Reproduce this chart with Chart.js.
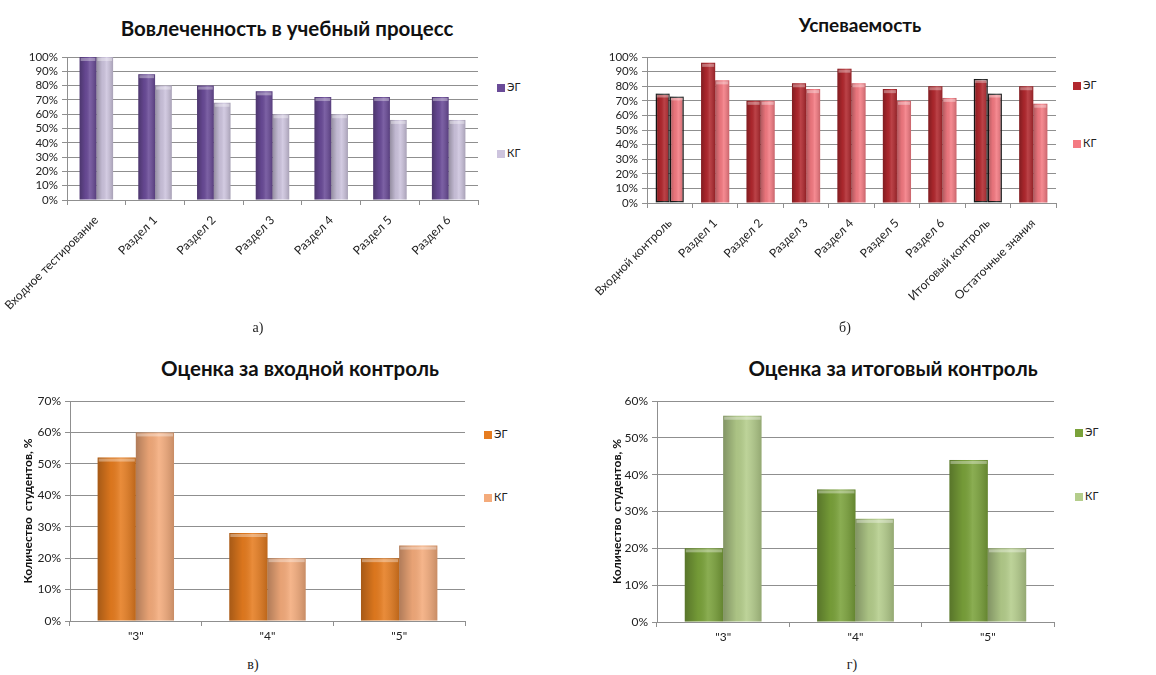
<!DOCTYPE html>
<html>
<head>
<meta charset="utf-8">
<script src="https://cdn.jsdelivr.net/npm/chart.js@4"></script>
<style>
  body { margin: 0; background: #fff; width: 1156px; height: 675px; position: relative; overflow: hidden; font-family: Lato, "Open Sans", sans-serif; }
  canvas { position: absolute; }
  .title { position: absolute; font-weight: bold; font-size: 20.5px; color: #111; white-space: nowrap; transform: translateX(-50%); }
  .caption { position: absolute; font-family: "Liberation Serif", serif; font-size: 14px; color: #222; transform: translateX(-50%); }
  .leg { position: absolute; font-size: 11px; color: #222; white-space: nowrap; }
  .leg span { display: inline-block; width: 8px; height: 8px; margin-right: 2px; vertical-align: -1px; }
</style>
</head>
<body>

<div class="title" style="left:287px; top:16px;">Вовлеченность в учебный процесс</div>
<div class="title" style="left:860px; top:13px; font-size:19px;">Успеваемость</div>
<div class="title" style="left:300px; top:356px;">Оценка за входной контроль</div>
<div class="title" style="left:893px; top:356px;">Оценка за итоговый контроль</div>

<canvas id="chartA" width="490" height="290" style="left:0px; top:40px;"></canvas>
<canvas id="chartB" width="490" height="290" style="left:580px; top:40px;"></canvas>
<canvas id="chartC" width="480" height="275" style="left:0px; top:380px;"></canvas>
<canvas id="chartD" width="490" height="275" style="left:580px; top:380px;"></canvas>

<div class="caption" style="left:258px; top:320px;">а)</div>
<div class="caption" style="left:845px; top:320px;">б)</div>
<div class="caption" style="left:253px; top:657px;">в)</div>
<div class="caption" style="left:852px; top:657px;">г)</div>

<script>
// --- data ---
var engageLabels = ["Входное тестирование", "Раздел 1", "Раздел 2", "Раздел 3", "Раздел 4", "Раздел 5", "Раздел 6"];
var engageEG = [100, 88, 80, 76, 72, 72, 72];
var engageKG = [100, 80, 68, 60, 60, 56, 56];

var progressLabels = ["Входной контроль", "Раздел 1", "Раздел 2", "Раздел 3", "Раздел 4", "Раздел 5", "Раздел 6", "Итоговый контроль", "Остаточные знания"];
var progressEG = [75, 96, 70, 82, 92, 78, 80, 85, 80];
var progressKG = [73, 84, 70, 78, 82, 70, 72, 75, 68];

var gradeLabels = ['"3"', '"4"', '"5"'];
var entryEG = [52, 28, 20];
var entryKG = [60, 20, 24];
var finalEG = [20, 36, 44];
var finalKG = [56, 28, 20];

var seriesNames = ["ЭГ", "КГ"];
var yAxisTitle = "Количество  студентов, %";

var gridColor = "#8f8f8f";

// shading over each bar so it looks a bit like the excel bevel
var bevelPlugin = {
    id: "bevel",
    afterDatasetsDraw: function(chart) {
        var ctx = chart.ctx;
        chart.data.datasets.forEach(function(ds, di) {
            var meta = chart.getDatasetMeta(di);
            meta.data.forEach(function(bar) {
                var left = bar.x - bar.width / 2;
                var top = bar.y;
                var h = bar.base - bar.y;
                var g = ctx.createLinearGradient(left, 0, left + bar.width, 0);
                g.addColorStop(0, "rgba(0,0,0,0.28)");
                g.addColorStop(0.35, "rgba(0,0,0,0.05)");
                g.addColorStop(0.6, "rgba(255,255,255,0.12)");
                g.addColorStop(1, "rgba(0,0,0,0.18)");
                ctx.save();
                ctx.fillStyle = g;
                ctx.fillRect(left, top, bar.width, h);
                ctx.fillStyle = "rgba(255,255,255,0.35)";
                ctx.fillRect(left + 1, top + 1, bar.width - 2, 3);
                ctx.restore();
            });
        });
    }
};

function addLegend(x, y, color, text) {
    var div = document.createElement("div");
    div.className = "leg";
    div.style.left = x + "px";
    div.style.top = y + "px";
    var sq = document.createElement("span");
    sq.style.background = color;
    div.append(sq);
    div.append(document.createTextNode(text));
    document.body.append(div);
}

function makeChart(id, labels, eg, kg, colors, opt) {
    var yScale = {
        min: 0,
        max: opt.max,
        ticks: {
            stepSize: 10,
            autoSkip: false,
            color: "#222",
            padding: 4,
            font: { family: "Lato", size: opt.tickSize },
            callback: function(v) { return v + "%"; }
        },
        grid: { color: gridColor, tickLength: 5, tickColor: gridColor },
        border: { color: gridColor },
        afterFit: function(scale) { scale.width = opt.yWidth; }
    };
    if (opt.yTitle) {
        yScale.title = {
            display: true,
            text: opt.yTitle,
            color: "#111",
            font: { family: "Lato", size: 12, weight: "bold" },
            padding: 0
        };
    }

    new Chart(document.getElementById(id), {
        type: "bar",
        data: {
            labels: labels,
            datasets: [{
                label: seriesNames[0],
                data: eg,
                backgroundColor: colors[0],
                borderColor: "#1a1a1a",
                borderWidth: opt.outline || 0,
                borderSkipped: false
            }, {
                label: seriesNames[1],
                data: kg,
                backgroundColor: colors[1],
                borderColor: "#1a1a1a",
                borderWidth: opt.outline || 0,
                borderSkipped: false
            }]
        },
        options: {
            responsive: false,
            animation: false,
            layout: { padding: { top: opt.padTop, right: opt.padRight, left: opt.padLeft || 0, bottom: 0 } },
            plugins: { legend: { display: false }, tooltip: { enabled: false } },
            datasets: { bar: { categoryPercentage: opt.catPct, barPercentage: 1 } },
            scales: {
                x: {
                    ticks: {
                        color: "#222",
                        padding: opt.xPad,
                        autoSkip: false,
                        minRotation: opt.rotate,
                        maxRotation: opt.rotate,
                        font: { family: "Lato", size: opt.xSize }
                    },
                    grid: { offset: true, drawOnChartArea: false, tickLength: 5, color: gridColor },
                    border: { color: gridColor },
                    afterFit: function(scale) {
                        scale.height = opt.xHeight;
                        // long rotated first label must not push the plot to the right
                        scale.paddingLeft = 0;
                        scale.paddingRight = 0;
                    }
                },
                y: yScale
            }
        },
        plugins: [bevelPlugin]
    });
}

// outline only on "Входной контроль" and "Итоговый контроль" bars
function progressOutline(ctx) {
    return (ctx.dataIndex === 0 || ctx.dataIndex === 7) ? 1.5 : 0;
}

makeChart("chartA", engageLabels, engageEG, engageKG, ["#6a4b98", "#cdc4de"], {
    max: 100, tickSize: 11.5, xSize: 12, xPad: 8, yWidth: 67, xHeight: 130, padTop: 17, padRight: 12, catPct: 0.57, rotate: 45
});
makeChart("chartB", progressLabels, progressEG, progressKG, ["#b2282e", "#f47a82"], {
    max: 100, tickSize: 11.5, xSize: 12, xPad: 8, yWidth: 67, xHeight: 127, padTop: 17, padRight: 14, catPct: 0.62, rotate: 45,
    outline: progressOutline
});
makeChart("chartC", gradeLabels, entryEG, entryKG, ["#e67c1f", "#f4ab7b"], {
    max: 70, tickSize: 12, xSize: 12, xPad: 3, yWidth: 49, padLeft: 21, xHeight: 34, padTop: 21, padRight: 15, catPct: 0.58, rotate: 0,
    yTitle: yAxisTitle
});
makeChart("chartD", gradeLabels, finalEG, finalKG, ["#7aa23a", "#b4cd8b"], {
    max: 60, tickSize: 12, xSize: 12, xPad: 3, yWidth: 47, padLeft: 30, xHeight: 33, padTop: 21, padRight: 16, catPct: 0.58, rotate: 0,
    yTitle: yAxisTitle
});

addLegend(497, 80, "#6a4b98", seriesNames[0]);
addLegend(497, 146, "#cdc4de", seriesNames[1]);
addLegend(1073, 78, "#b2282e", seriesNames[0]);
addLegend(1073, 136, "#f47a82", seriesNames[1]);
addLegend(484, 427, "#e67c1f", seriesNames[0]);
addLegend(484, 490, "#f4ab7b", seriesNames[1]);
addLegend(1075, 425, "#7aa23a", seriesNames[0]);
addLegend(1075, 489, "#b4cd8b", seriesNames[1]);
</script>
</body>
</html>
